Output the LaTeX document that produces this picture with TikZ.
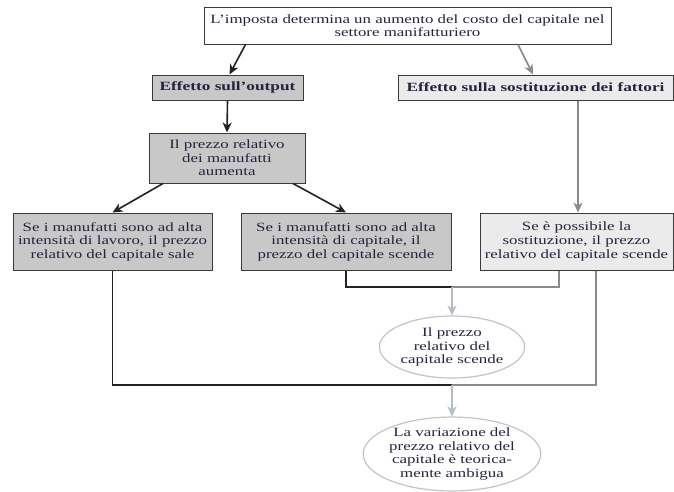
\documentclass[tikz,border=0pt]{standalone}
\usepackage{fontspec}
\setmainfont[FakeStretch=1.34, BoldFeatures={FakeStretch=1.37}]{Liberation Serif}
\usetikzlibrary{arrows.meta,shapes.geometric}
\definecolor{txt}{HTML}{24243F}
\definecolor{darkfill}{HTML}{C8C8C8}
\definecolor{lightfill}{HTML}{EBEBEB}
\definecolor{border}{HTML}{3A3A3A}
\definecolor{blkline}{HTML}{222222}
\definecolor{grayline}{HTML}{8A8A8A}
\definecolor{lightline}{HTML}{B4BCC4}
\definecolor{ellborder}{HTML}{C4C4C4}
\begin{document}
\begin{tikzpicture}[x=1pt,y=-1pt,
  every node/.style={font=\fontsize{12.6}{13.6}\selectfont, text=txt, align=center, inner sep=0pt},
  box/.style={draw=border, line width=1pt, rectangle},
  darkbox/.style={box, fill=darkfill},
  lightbox/.style={box, fill=lightfill},
  oval/.style={ellipse, draw=ellborder, line width=1.2pt, fill=white},
  tip/.style={-{Stealth[length=10pt,width=9pt,inset=3pt]}},
  blk/.style={draw=blkline, line width=1.6pt},
  gry/.style={draw=grayline, line width=1.6pt},
  lgt/.style={draw=lightline, line width=1.6pt}]
\useasboundingbox (0,0) rectangle (674,491);
\fill[white] (0,0) rectangle (674,491);

\node[box, minimum width=407pt, minimum height=37pt] (top) at (407.5,25.5)
  {L’imposta determina un aumento del costo del capitale nel\\settore manifatturiero};
\node[darkbox, minimum width=151pt, minimum height=25pt] (eo) at (227.5,87.5)
  {\bfseries Effetto sull’output};
\node[lightbox, minimum width=275pt, minimum height=25pt] (es) at (535.5,87.5)
  {\bfseries Effetto sulla sostituzione dei fattori};
\node[darkbox, minimum width=156pt, minimum height=50pt] (pr) at (227,158)
  {Il prezzo relativo\\dei manufatti\\aumenta};
\node[darkbox, minimum width=199pt, minimum height=57pt] (lb) at (112.5,241.5)
  {Se i manufatti sono ad alta\\intensità di lavoro, il prezzo\\relativo del capitale sale};
\node[darkbox, minimum width=210pt, minimum height=57pt] (mb) at (346,241.5)
  {Se i manufatti sono ad alta\\intensità di capitale, il\\prezzo del capitale scende};
\node[lightbox, minimum width=193pt, minimum height=57pt] (rb) at (576.5,241.5)
  {Se è possibile la\\sostituzione, il prezzo\\relativo del capitale scende};
\node[oval, minimum width=144pt, minimum height=62pt] (e1) at (452,347)
  {Il prezzo\\relativo del\\capitale scende};
\node[oval, minimum width=168pt, minimum height=72pt] (e2) at (452,454)
  {La variazione del\\prezzo relativo del\\capitale è teorica-\\mente ambigua};

\coordinate (j1) at (452,287);
\coordinate (j2) at (452,385);

\draw[blk,tip] ([xshift=-162pt]top.south) -- ([xshift=2pt]eo.north);
\draw[gry,tip] ([xshift=110.5pt]top.south) -- ([xshift=-2.5pt]es.north);
\draw[blk,tip] (eo.south) -- (pr.north);
\draw[gry,tip] ([xshift=42.5pt]es.south) -- ([xshift=1.5pt]rb.north);
\draw[blk,tip] ([xshift=-64pt]pr.south) -- (lb.north);
\draw[blk,tip] ([xshift=66pt]pr.south) -- (mb.north);

\draw[blk] (mb.south) |- (j1);
\draw[gry] ([xshift=-17.5pt]rb.south) |- (j1);
\draw[lgt,tip] (j1) -- (e1.north);

\draw[blk] (lb.south) |- (j2);
\draw[gry] ([xshift=19.5pt]rb.south) |- (j2);
\draw[lgt,tip] (j2) -- (e2.north);
\end{tikzpicture}
\end{document}
